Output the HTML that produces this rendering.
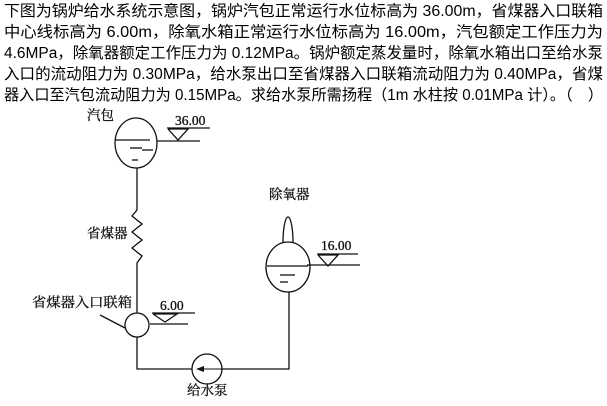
<!DOCTYPE html>
<html><head><meta charset="utf-8"><style>
html,body{margin:0;padding:0;background:#fff;width:607px;height:406px;overflow:hidden}
svg{display:block}
.t{font-family:"Liberation Sans","Noto Sans CJK SC",sans-serif;font-size:15.5px;fill:#000}
.l{font-family:"Liberation Serif","Noto Serif CJK SC",serif;font-size:13.5px;fill:#111;stroke:#111;stroke-width:0.3}
</style></head><body>
<svg width="607" height="406" viewBox="0 0 607 406" xmlns="http://www.w3.org/2000/svg">
<text class="t" x="4" y="16" textLength="599" lengthAdjust="spacingAndGlyphs">下图为锅炉给水系统示意图，锅炉汽包正常运行水位标高为 36.00m，省煤器入口联箱</text>
<text class="t" x="4" y="37" textLength="599" lengthAdjust="spacingAndGlyphs">中心线标高为 6.00m，除氧水箱正常运行水位标高为 16.00m，汽包额定工作压力为</text>
<text class="t" x="4" y="58" textLength="599" lengthAdjust="spacingAndGlyphs">4.6MPa，除氧器额定工作压力为 0.12MPa。锅炉额定蒸发量时，除氧水箱出口至给水泵</text>
<text class="t" x="4" y="79" textLength="599" lengthAdjust="spacingAndGlyphs">入口的流动阻力为 0.30MPa，给水泵出口至省煤器入口联箱流动阻力为 0.40MPa，省煤</text>
<text class="t" x="4" y="100" textLength="599" lengthAdjust="spacingAndGlyphs">器入口至汽包流动阻力为 0.15MPa。求给水泵所需扬程（1m 水柱按 0.01MPa 计）。（　）</text>

<g stroke="#111" stroke-width="1.3" fill="none">
<ellipse cx="136" cy="143" rx="21" ry="25"/>
<line x1="115" y1="140" x2="150" y2="140"/>
<line x1="130" y1="148" x2="142" y2="148"/>
<line x1="142" y1="150" x2="153" y2="150"/>
<line x1="132" y1="160" x2="138" y2="160"/>
<line x1="167" y1="128" x2="210" y2="128"/>
<polyline points="168,129 188,129 178,140 168,129"/>
<line x1="157" y1="141" x2="200" y2="141"/>
<polyline points="137,168 137,210 132,216 142,224 132,232 142,240 132,248 142,256 137,263 137,313"/>
<circle cx="137" cy="325" r="12"/>
<line x1="100" y1="315" x2="125" y2="328"/>
<line x1="152" y1="313" x2="195" y2="313"/>
<polyline points="153,314 177,314 165,322 153,314"/>
<line x1="150" y1="324" x2="188" y2="324"/>
<polyline points="137,337 137,369 192,369"/>
<circle cx="207" cy="369" r="15"/>
<polyline points="222,369 289,369 289,292"/>
<line x1="198" y1="369" x2="222" y2="369" stroke-width="1"/>
<ellipse cx="288" cy="267" rx="22" ry="25"/>
<path d="M283,242 C283,230 285,217 288,217 C291,217 293,230 293,242"/>
<line x1="267" y1="266" x2="308" y2="266"/>
<line x1="280" y1="275" x2="295" y2="275"/>
<line x1="280" y1="282" x2="288" y2="282"/>
<line x1="317" y1="254" x2="358" y2="254"/>
<polyline points="318,255 338,255 328,266 318,255"/>
<line x1="307" y1="265" x2="360" y2="265"/>
</g>
<polygon points="196,369 204,366 204,372" fill="#111"/>

<text class="l" x="87" y="120">汽包</text>
<text class="l" x="175" y="125">36.00</text>
<text class="l" x="87" y="238">省煤器</text>
<text class="l" x="32" y="307" textLength="100" lengthAdjust="spacingAndGlyphs">省煤器入口联箱</text>
<text class="l" x="160" y="310">6.00</text>
<text class="l" x="269" y="199">除氧器</text>
<text class="l" x="321" y="250">16.00</text>
<text class="l" x="187" y="395">给水泵</text>
</svg>
</body></html>
